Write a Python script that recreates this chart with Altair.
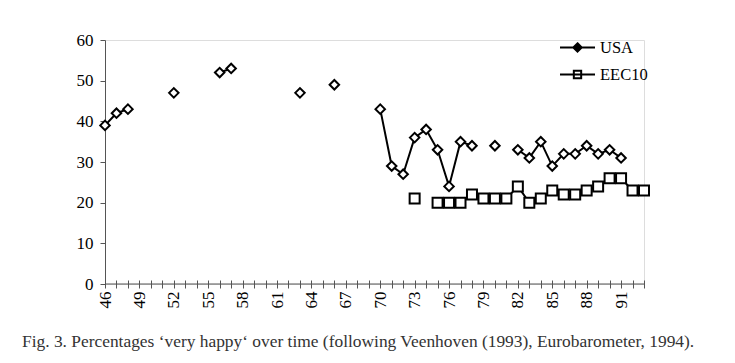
import altair as alt
import pandas as pd

# ---- data ----
usa_years = [46, 47, 48, 52, 56, 57, 63, 66, 70, 71, 72, 73, 74, 75, 76, 77, 78,
             80, 82, 83, 84, 85, 86, 87, 88, 89, 90, 91]
usa_values = [39, 42, 43, 47, 52, 53, 47, 49, 43, 29, 27, 36, 38, 33, 24, 35, 34,
              34, 33, 31, 35, 29, 32, 32, 34, 32, 33, 31]
eec_years = [73, 75, 76, 77, 78, 79, 80, 81, 82, 83, 84, 85, 86, 87, 88, 89, 90,
             91, 92, 93]
eec_values = [21, 20, 20, 20, 22, 21, 21, 21, 24, 20, 21, 23, 22, 22, 23, 24, 26,
              26, 23, 23]
series_names = ["USA", "EEC10"]
tick_years = list(range(46, 94))
y_ticks = [0, 10, 20, 30, 40, 50, 60]
caption = ("Fig. 3. Percentages \u2018very happy\u2018 over time (following "
           "Veenhoven (1993), Eurobarometer, 1994).")


def runs(years):
    seg, out = 0, []
    for i, y in enumerate(years):
        if i and y != years[i - 1] + 1:
            seg += 1
        out.append(seg)
    return out


rows = []
for name, yrs, vals in [("USA", usa_years, usa_values), ("EEC10", eec_years, eec_values)]:
    for yr, v, s in zip(yrs, vals, runs(yrs)):
        rows.append({"year": yr, "value": v, "series": name, "seg": f"{name}-{s}"})
df = pd.DataFrame(rows)
ticks_df = pd.DataFrame({"year": tick_years})

SERIF = "Liberation Serif"

x_scale = alt.Scale(domain=[46, 93], nice=False, zero=False)
y_scale = alt.Scale(domain=[0, 60], nice=False)

x_axis = alt.Axis(values=tick_years, format="d",
                  labelExpr="datum.value % 3 == 1 ? datum.label : ''",
                  labelAngle=-90, labelAlign="right", labelBaseline="middle",
                  labelFont=SERIF, labelFontSize=17, labelColor="black",
                  labelPadding=3, tickSize=8, offset=-4, domain=False,
                  tickColor="#555", grid=False, labelOverlap=False,
                  labelBound=False, labelFlush=False)
y_axis = alt.Axis(values=y_ticks, labelFont=SERIF, labelFontSize=17,
                  labelColor="black", labelPadding=7, tickSize=5,
                  tickColor="#555", domainColor="#555", grid=False)

x_enc = alt.X("year:Q", scale=x_scale, title=None, axis=x_axis)
y_enc = alt.Y("value:Q", scale=y_scale, title=None, axis=y_axis)

# legend symbols: line with marker (diamond drawn as nested outlines = filled look)
P_USA = ("M-1,0L1,0M0,-0.24L0.24,0L0,0.24L-0.24,0Z"
         "M0,-0.15L0.15,0L0,0.15L-0.15,0Z"
         "M0,-0.06L0.06,0L0,0.06L-0.06,0Z")
P_EEC = "M-1,0L1,0M-0.21,-0.21L0.21,-0.21L0.21,0.21L-0.21,0.21Z"

legend = alt.Legend(
    title=None, orient="none", legendX=454, legendY=-11, labelFont=SERIF,
    labelFontSize=16.5, labelColor="black", labelOffset=4, rowPadding=-15,
    symbolSize=1225, symbolStrokeColor="black", symbolStrokeWidth=2,
    symbolFillColor="transparent", symbolOpacity=1)

base = alt.Chart(df)

lines = base.mark_line(color="black", strokeWidth=2).encode(
    x=x_enc, y=y_enc, detail="seg:N")

usa_pts = base.transform_filter(alt.datum.series == "USA").mark_point(
    shape="diamond", filled=True, fill="white", stroke="black", strokeWidth=2,
    size=90, opacity=1).encode(x=x_enc, y=y_enc)

eec_pts = base.transform_filter(alt.datum.series == "EEC10").mark_point(
    shape="square", filled=True, fill="white", stroke="black", strokeWidth=2,
    size=100, opacity=1).encode(x=x_enc, y=y_enc)

legend_layer = base.mark_point(opacity=0, stroke="black", strokeWidth=2).encode(
    x=x_enc, y=y_enc,
    shape=alt.Shape("series:N", scale=alt.Scale(domain=series_names,
                                                  range=[P_USA, P_EEC]),
                    legend=legend))

baseline = alt.Chart(ticks_df).mark_rule(color="#555", strokeWidth=1).encode(
    x=alt.X("min(year):Q", scale=x_scale, title=None, axis=x_axis),
    x2=alt.X2("max(year):Q"),
    y=alt.datum(0))

chart = alt.layer(lines, usa_pts, eec_pts, legend_layer, baseline).properties(
    width=539, height=244,
    autosize=alt.AutoSizeParams(type="none"),
    padding={"left": 97, "top": 32, "right": 83, "bottom": 71},
    title=alt.Title(caption, orient="bottom", anchor="start", frame="group",
                    dx=-83, offset=25, font=SERIF, fontSize=17.4,
                    fontWeight="normal", color="#333"),
).configure_view(stroke=None).configure(background="white")

chart.save("out.html", embed_options={"renderer": "svg", "actions": False})
